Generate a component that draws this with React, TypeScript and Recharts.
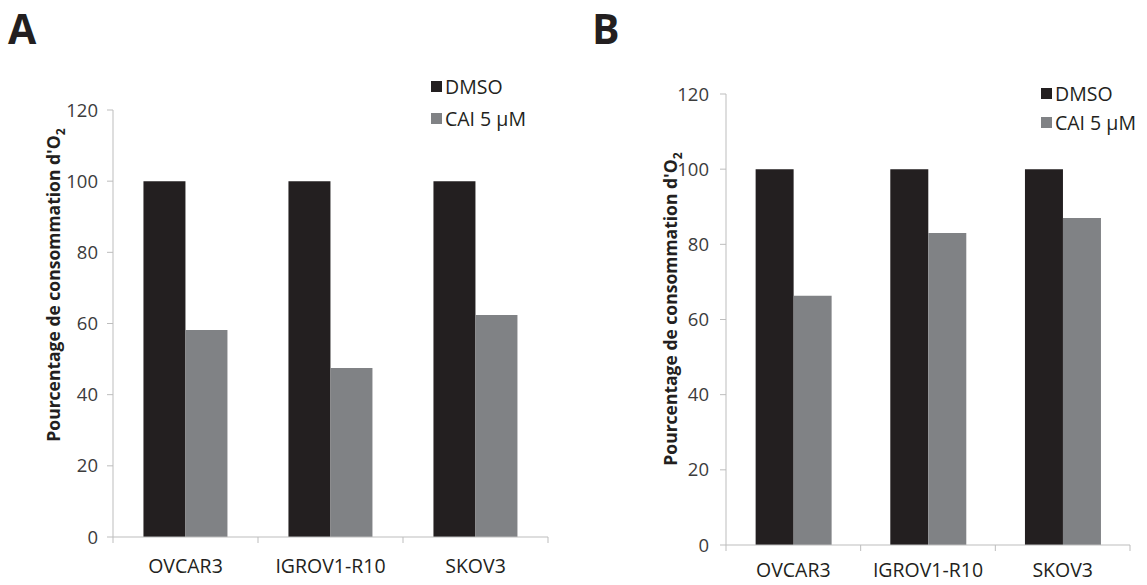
import { BarChart, Bar, XAxis, YAxis, Legend } from "recharts";

const categories = ["OVCAR3", "IGROV1-R10", "SKOV3"];
const dmsoA = [100, 100, 100];
const caiA = [58.2, 47.5, 62.4];
const dmsoB = [100, 100, 100];
const caiB = [66.3, 83.0, 87.0];
const yTicks = [0, 20, 40, 60, 80, 100, 120];
const seriesNames = ["DMSO", "CAI 5 µM"];
const seriesColors = ["#231f20", "#808285"];

const FONT = "'Open Sans', 'Liberation Sans', sans-serif";
const AXIS = "#bdbdbd";

type PanelProps = {
  left: number;
  width: number;
  height: number;
  margin: { top: number; right: number; bottom: number; left: number };
  dmso: number[];
  cai: number[];
  gap: string;
  legendPos: { left: number; top: number };
  legendRow: number;
  tickMargin: number;
  labelOffset: number;
};

function Panel(p: PanelProps) {
  const data = categories.map((c, i) => ({ name: c, dmso: p.dmso[i], cai: p.cai[i] }));
  const yAxisW = 60;
  const plotW = p.width - p.margin.left - p.margin.right - yAxisW;
  const band = plotW / categories.length;

  // category label plus excel-style boundary ticks
  const CatTick = (props: any) => {
    const { x, y, payload, index } = props;
    return (
      <g>
        <line x1={x - band / 2} x2={x - band / 2} y1={y} y2={y + 6} stroke={AXIS} />
        {index === categories.length - 1 && (
          <line x1={x + band / 2} x2={x + band / 2} y1={y} y2={y + 6} stroke={AXIS} />
        )}
        <text x={x} y={y + p.labelOffset} dy="0.71em" textAnchor="middle" fontSize={19.5} fill="#231f20" fontFamily={FONT}>
          {payload.value}
        </text>
      </g>
    );
  };

  const renderLegend = () => (
    <div style={{ fontFamily: FONT, fontSize: 19.5, color: "#231f20" }}>
      {seriesNames.map((n, i) => (
        <div key={n} style={{ display: "flex", alignItems: "center", height: p.legendRow }}>
          <span style={{ width: 11, height: 11, background: seriesColors[i], marginRight: 3, display: "inline-block" }} />
          <span>{n}</span>
        </div>
      ))}
    </div>
  );

  return (
    <div style={{ position: "absolute", left: p.left, top: 0 }}>
      <BarChart width={p.width} height={p.height} data={data} margin={p.margin} barCategoryGap={p.gap} barGap={0}>
        <XAxis
          dataKey="name"
          axisLine={{ stroke: AXIS }}
          tickLine={false}
          tickSize={0}
          tickMargin={0}
          height={30}
          interval={0}
          tick={CatTick}
        />
        <YAxis
          width={yAxisW}
          domain={[0, 120]}
          ticks={yTicks}
          interval={0}
          axisLine={{ stroke: AXIS }}
          tickLine={{ stroke: AXIS }}
          tickSize={6}
          tickMargin={p.tickMargin}
          tick={{ fontSize: 18.5, fill: "#3c3c3c", fontFamily: FONT }}
        />
        <Legend
          layout="vertical"
          align="center"
          verticalAlign="middle"
          content={renderLegend}
          wrapperStyle={{ left: p.legendPos.left, top: p.legendPos.top, width: "auto" }}
        />
        <Bar dataKey="dmso" name={seriesNames[0]} fill={seriesColors[0]} isAnimationActive={false} />
        <Bar dataKey="cai" name={seriesNames[1]} fill={seriesColors[1]} isAnimationActive={false} />
      </BarChart>
    </div>
  );
}

const yLabelStyle = {
  position: "absolute" as const,
  transform: "translate(-50%, -50%) rotate(-90deg)",
  whiteSpace: "nowrap" as const,
  fontFamily: FONT,
  fontWeight: 700,
  fontSize: 17.5,
  color: "#231f20",
};

const titleStyle = {
  position: "absolute" as const,
  top: 0,
  fontFamily: FONT,
  fontWeight: 700,
  fontSize: 41,
  color: "#231f20",
};

const YLabel = () => (
  <span>
    Pourcentage de consommation d'O<sub style={{ fontSize: "0.7em" }}>2</sub>
  </span>
);

export default function App() {
  return (
    <div style={{ position: "absolute", left: 0, top: 0, width: 1147, height: 585, background: "#fff", overflow: "hidden" }}>
      <div style={{ ...titleStyle, left: 8 }}>A</div>
      <div style={{ ...titleStyle, left: 592 }}>B</div>

      <Panel
        left={0}
        width={560}
        height={585}
        margin={{ top: 110, right: 12, bottom: 18, left: 53 }}
        dmso={dmsoA}
        cai={caiA}
        gap="21%"
        legendPos={{ left: 431, top: 70 }}
        legendRow={32}
        tickMargin={9}
        labelOffset={22}
      />
      <Panel
        left={580}
        width={567}
        height={585}
        margin={{ top: 94, right: 17, bottom: 10, left: 86 }}
        dmso={dmsoB}
        cai={caiB}
        gap="22%"
        legendPos={{ left: 461, top: 79 }}
        legendRow={29}
        tickMargin={11}
        labelOffset={18}
      />

      <div style={{ ...yLabelStyle, left: 55, top: 285 }}>
        <YLabel />
      </div>
      <div style={{ ...yLabelStyle, left: 672, top: 309 }}>
        <YLabel />
      </div>
    </div>
  );
}
